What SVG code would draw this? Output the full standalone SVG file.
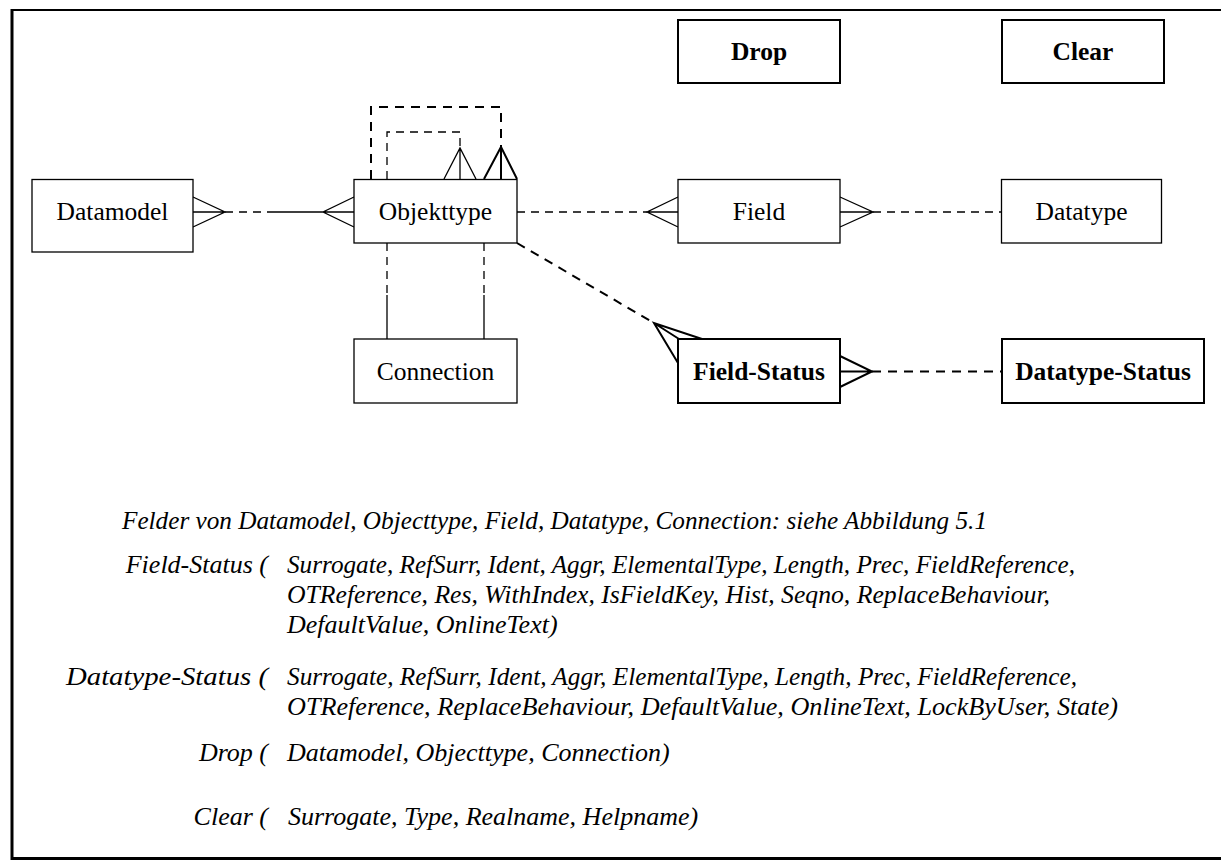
<svg xmlns="http://www.w3.org/2000/svg" width="1221" height="867" viewBox="0 0 1221 867">
  <style>
    .box { fill: #fff; stroke: #000; stroke-width: 1.3; }
    .boxb { fill: #fff; stroke: #000; stroke-width: 2; }
    .lbl { font-family: "Liberation Serif", "Times New Roman", serif; font-size: 25.5px; fill: #000; text-anchor: middle; }
    .lblb { font-family: "Liberation Serif", "Times New Roman", serif; font-size: 25.5px; font-weight: bold; fill: #000; text-anchor: middle; }
    .ln { fill: none; stroke: #000; stroke-width: 1.3; }
    .lnb { fill: none; stroke: #000; stroke-width: 2; }
    .dash { fill: none; stroke: #000; stroke-width: 1.3; stroke-dasharray: 8 6; }
    .dashb { fill: none; stroke: #000; stroke-width: 2; stroke-dasharray: 9 7; }
    .note { font-family: "Liberation Serif", "Times New Roman", serif; font-size: 26px; font-style: italic; fill: #000; }
    .frame { fill: none; stroke: #000; }
  </style>

  <rect x="0" y="0" width="1221" height="867" fill="#fff"/>

  <!-- page frame -->
  <g id="frame">
    <line class="frame" x1="11" y1="10" x2="1221" y2="10" stroke-width="2"/>
    <line class="frame" x1="12" y1="9" x2="12" y2="860" stroke-width="3"/>
    <line class="frame" x1="11" y1="858.5" x2="1221" y2="858.5" stroke-width="3"/>
  </g>

  <!-- relationships -->
  <g id="connectors">
    <!-- Datamodel : Objekttype -->
    <path class="ln" d="M193 197 L225 212 L193 227 M193 212 L225 212"/>
    <path class="dash" d="M225 212 L275 212"/>
    <path class="ln" d="M275 212 L354 212 M354 197 L323 212 L354 227"/>

    <!-- Objekttype : Field -->
    <path class="dash" d="M517 212 L647 212"/>
    <path class="ln" d="M678 197 L647 212 L678 227 M647 212 L678 212"/>

    <!-- Field : Datatype -->
    <path class="ln" d="M840 197 L873 212 L840 227 M840 212 L873 212"/>
    <path class="dash" d="M873 212 L1001 212"/>

    <!-- Objekttype : Connection (two relations) -->
    <path class="dash" d="M387 243 L387 295 M484 243 L484 295"/>
    <path class="ln" d="M387 295 L387 339 M484 295 L484 339"/>

    <!-- Objekttype self relation (inner) -->
    <path class="dash" d="M387 179 L387 132 L460 132 L460 150"/>
    <path class="ln" d="M460 148 L460 179 M444 179 L460 148 L476 179"/>

    <!-- Objekttype self relation (outer) -->
    <path class="dashb" d="M371 179 L371 107 L501 107 L501 148"/>
    <path class="lnb" d="M501 147 L501 179 M484 179 L501 147 L517 179"/>

    <!-- Objekttype : Field-Status -->
    <path class="dashb" d="M517 243 L654 323"/>
    <path class="lnb" d="M702 339 L654 323 L678 363 M654 323 L679 339"/>

    <!-- Field-Status : Datatype-Status -->
    <path class="lnb" d="M840 356 L872 371.5 L840 387 M840 371.5 L872 371.5"/>
    <path class="dashb" d="M872 371.5 L1002 371.5"/>
  </g>

  <!-- entities -->
  <g id="node-drop">
    <rect class="boxb" x="678" y="20" width="162" height="63"/>
    <text class="lblb" x="759" y="60">Drop</text>
  </g>
  <g id="node-clear">
    <rect class="boxb" x="1002" y="20" width="162" height="63"/>
    <text class="lblb" x="1083" y="60">Clear</text>
  </g>
  <g id="node-datamodel">
    <rect class="box" x="32" y="179.5" width="161" height="72.5"/>
    <text class="lbl" x="112.5" y="220">Datamodel</text>
  </g>
  <g id="node-objekttype">
    <rect class="box" x="354" y="179.5" width="163" height="63.5"/>
    <text class="lbl" x="435.5" y="220">Objekttype</text>
  </g>
  <g id="node-field">
    <rect class="box" x="678" y="179.5" width="162" height="63.5"/>
    <text class="lbl" x="759" y="220">Field</text>
  </g>
  <g id="node-datatype">
    <rect class="box" x="1001.5" y="179.5" width="160" height="63.5"/>
    <text class="lbl" x="1081.5" y="220">Datatype</text>
  </g>
  <g id="node-connection">
    <rect class="box" x="354" y="339" width="163" height="64"/>
    <text class="lbl" x="435.5" y="379.5">Connection</text>
  </g>
  <g id="node-field-status">
    <rect class="boxb" x="678" y="339" width="162" height="64"/>
    <text class="lblb" x="759" y="380">Field-Status</text>
  </g>
  <g id="node-datatype-status">
    <rect class="boxb" x="1002" y="339" width="202" height="64"/>
    <text class="lblb" x="1103" y="380">Datatype-Status</text>
  </g>

  <!-- attribute lists -->
  <g id="notes">
    <text class="note" x="122" y="529" textLength="865" lengthAdjust="spacingAndGlyphs">Felder von Datamodel, Objecttype, Field, Datatype, Connection: siehe Abbildung 5.1</text>

    <text class="note" x="268" y="573" text-anchor="end">Field-Status (</text>
    <text class="note" x="287" y="573" textLength="788" lengthAdjust="spacingAndGlyphs">Surrogate, RefSurr, Ident, Aggr, ElementalType, Length, Prec, FieldReference,</text>
    <text class="note" x="287" y="603" textLength="763" lengthAdjust="spacingAndGlyphs">OTReference, Res, WithIndex, IsFieldKey, Hist, Seqno, ReplaceBehaviour,</text>
    <text class="note" x="287" y="633">DefaultValue, OnlineText)</text>

    <text class="note" x="66" y="685" textLength="202" lengthAdjust="spacingAndGlyphs">Datatype-Status (</text>
    <text class="note" x="287" y="685" textLength="790" lengthAdjust="spacingAndGlyphs">Surrogate, RefSurr, Ident, Aggr, ElementalType, Length, Prec, FieldReference,</text>
    <text class="note" x="287" y="715" textLength="831" lengthAdjust="spacingAndGlyphs">OTReference, ReplaceBehaviour, DefaultValue, OnlineText, LockByUser, State)</text>

    <text class="note" x="268" y="761" text-anchor="end">Drop (</text>
    <text class="note" x="287" y="761">Datamodel, Objecttype, Connection)</text>

    <text class="note" x="268" y="825" text-anchor="end">Clear (</text>
    <text class="note" x="288" y="825">Surrogate, Type, Realname, Helpname)</text>
  </g>
</svg>
